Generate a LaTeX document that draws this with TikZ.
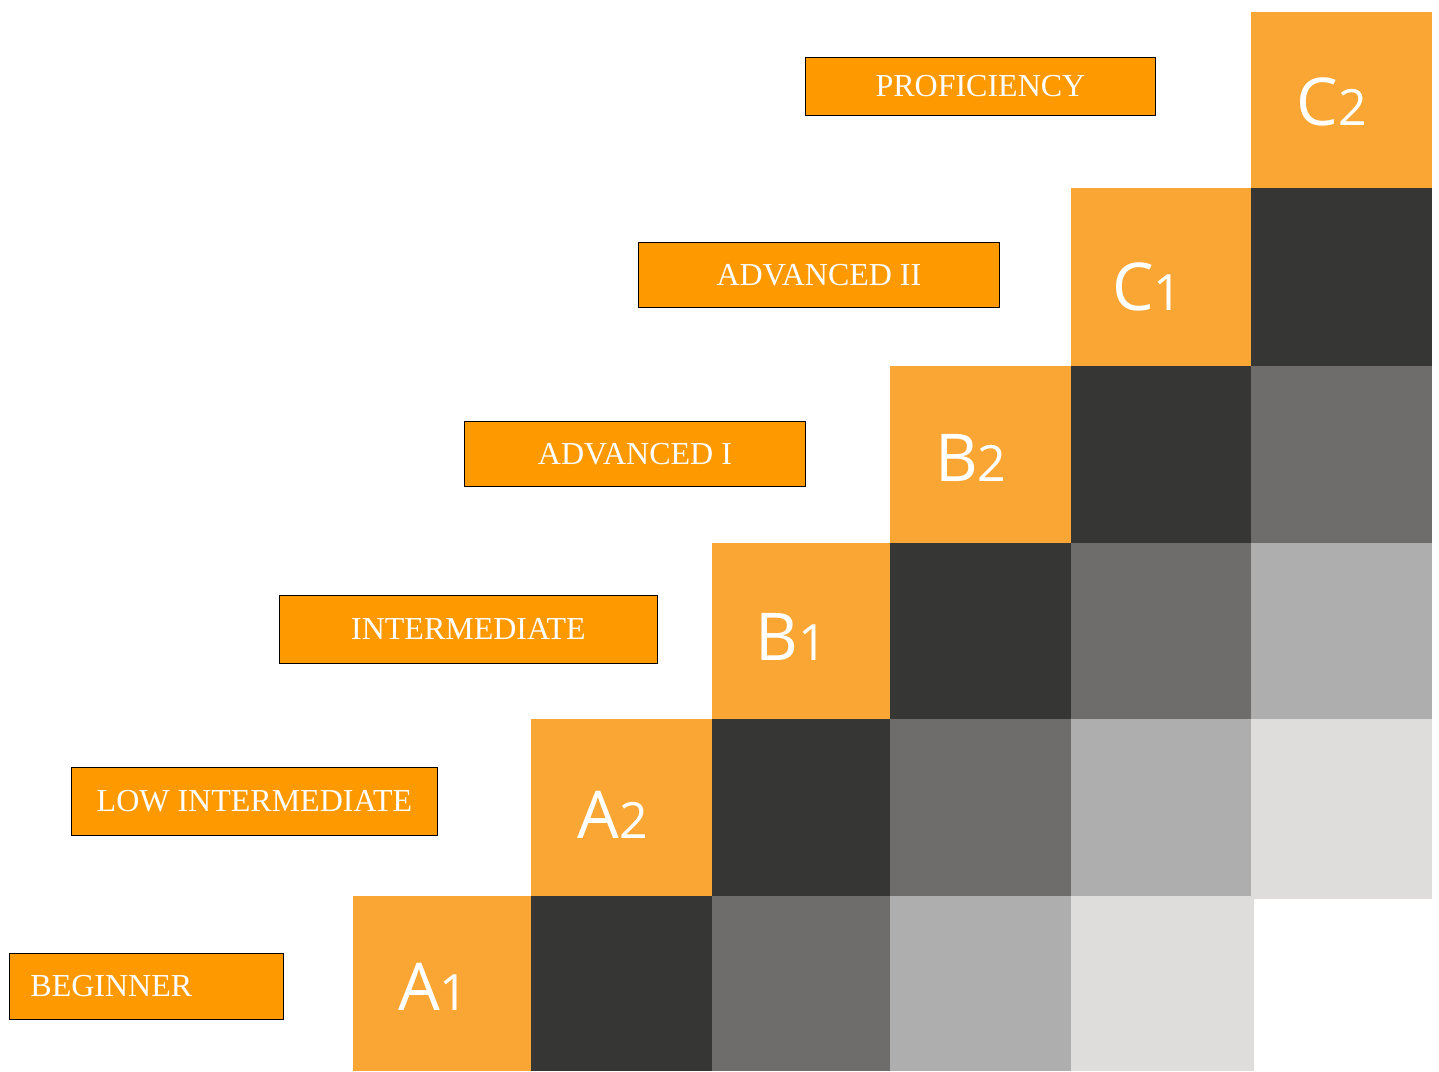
\documentclass[tikz,border=0pt]{standalone}
\usepackage{fontspec}
\setmainfont{Liberation Serif}
\newfontfamily\sqfont{Open Sans}
\definecolor{boxor}{HTML}{FF9900}
\definecolor{sqor}{HTML}{F9A634}
\definecolor{gdark}{HTML}{363634}
\definecolor{gmid}{HTML}{6E6D6B}
\definecolor{glight}{HTML}{AFAEAE}
\definecolor{gpale}{HTML}{DEDDDC}
\tikzset{
  levelbox/.style={draw=black, line width=0.9pt, fill=boxor, text=white, inner sep=0pt,
    font=\fontsize{32}{32}\selectfont},
  sq/.style={rectangle, draw=none, inner sep=0pt, anchor=north west},
  sqlabel/.style={text=white, inner sep=0pt}
}
\newcommand{\lvl}[2]{{\sqfont\fontsize{66}{66}\selectfont #1\fontsize{50}{50}\selectfont #2}}
\begin{document}
\begin{tikzpicture}[x=1pt,y=-1pt]
\useasboundingbox (0,0) rectangle (1439,1071);
% column edges: 353,531,712,890,1071,1251,1432 ; row edges: 12,188,366,543,719,896,1071
% row 0
\node[sq, fill=sqor, minimum width=181pt, minimum height=176pt] (c2) at (1251,12) {};
% row 1
\node[sq, fill=sqor, minimum width=180pt, minimum height=178pt] (c1) at (1071,188) {};
\node[sq, fill=gdark, minimum width=181pt, minimum height=178pt] (r1c5) at (1251,188) {};
% row 2
\node[sq, fill=sqor, minimum width=181pt, minimum height=177pt] (b2) at (890,366) {};
\node[sq, fill=gdark, minimum width=180pt, minimum height=177pt] (r2c4) at (1071,366) {};
\node[sq, fill=gmid, minimum width=181pt, minimum height=177pt] (r2c5) at (1251,366) {};
% row 3
\node[sq, fill=sqor, minimum width=178pt, minimum height=176pt] (b1) at (712,543) {};
\node[sq, fill=gdark, minimum width=181pt, minimum height=176pt] (r3c3) at (890,543) {};
\node[sq, fill=gmid, minimum width=180pt, minimum height=176pt] (r3c4) at (1071,543) {};
\node[sq, fill=glight, minimum width=181pt, minimum height=176pt] (r3c5) at (1251,543) {};
% row 4
\node[sq, fill=sqor, minimum width=181pt, minimum height=177pt] (a2) at (531,719) {};
\node[sq, fill=gdark, minimum width=178pt, minimum height=177pt] (r4c2) at (712,719) {};
\node[sq, fill=gmid, minimum width=181pt, minimum height=177pt] (r4c3) at (890,719) {};
\node[sq, fill=glight, minimum width=180pt, minimum height=177pt] (r4c4) at (1071,719) {};
\node[sq, fill=gpale, minimum width=181pt, minimum height=180pt] (r4c5) at (1251,719) {};
% row 5
\node[sq, fill=sqor, minimum width=178pt, minimum height=175pt] (a1) at (353,896) {};
\node[sq, fill=gdark, minimum width=181pt, minimum height=175pt] (r5c1) at (531,896) {};
\node[sq, fill=gmid, minimum width=178pt, minimum height=175pt] (r5c2) at (712,896) {};
\node[sq, fill=glight, minimum width=181pt, minimum height=175pt] (r5c3) at (890,896) {};
\node[sq, fill=gpale, minimum width=183pt, minimum height=175pt] (r5c4) at (1071,896) {};
% square letters
\node[sqlabel] (tc2) at ([xshift=-10pt,yshift=-2pt]c2.center) {\lvl{C}{2}};
\node[sqlabel] (tc1) at ([xshift=-14pt,yshift=-10pt]c1.center) {\lvl{C}{1}};
\node[sqlabel] (tb2) at ([xshift=-10pt,yshift=-3pt]b2.center) {\lvl{B}{2}};
\node[sqlabel] (tb1) at ([xshift=-10pt,yshift=-6pt]b1.center) {\lvl{B}{1}};
\node[sqlabel] (ta2) at ([xshift=-9pt,yshift=-7pt]a2.center) {\lvl{A}{2}};
\node[sqlabel] (ta1) at ([xshift=-9pt,yshift=-3pt]a1.center) {\lvl{A}{1}};
% level boxes
\node[levelbox, minimum width=350pt, minimum height=58pt, anchor=north west] (prof) at (805,57) {PROFICIENCY};
\node[levelbox, minimum width=361pt, minimum height=65pt, anchor=north west] (adv2) at (638,242) {ADVANCED II};
\node[levelbox, minimum width=341pt, minimum height=65pt, anchor=north west] (adv1) at (464,421) {ADVANCED I};
\node[levelbox, minimum width=378pt, minimum height=68pt, anchor=north west] (inter) at (279,595) {INTERMEDIATE};
\node[levelbox, minimum width=366pt, minimum height=68pt, anchor=north west] (lowint) at (71,767) {LOW INTERMEDIATE};
\node[levelbox, minimum width=274pt, minimum height=66pt, anchor=north west, text width=232pt, align=left, inner xsep=21pt] (beg) at (9,953) {BEGINNER};
\end{tikzpicture}
\end{document}
